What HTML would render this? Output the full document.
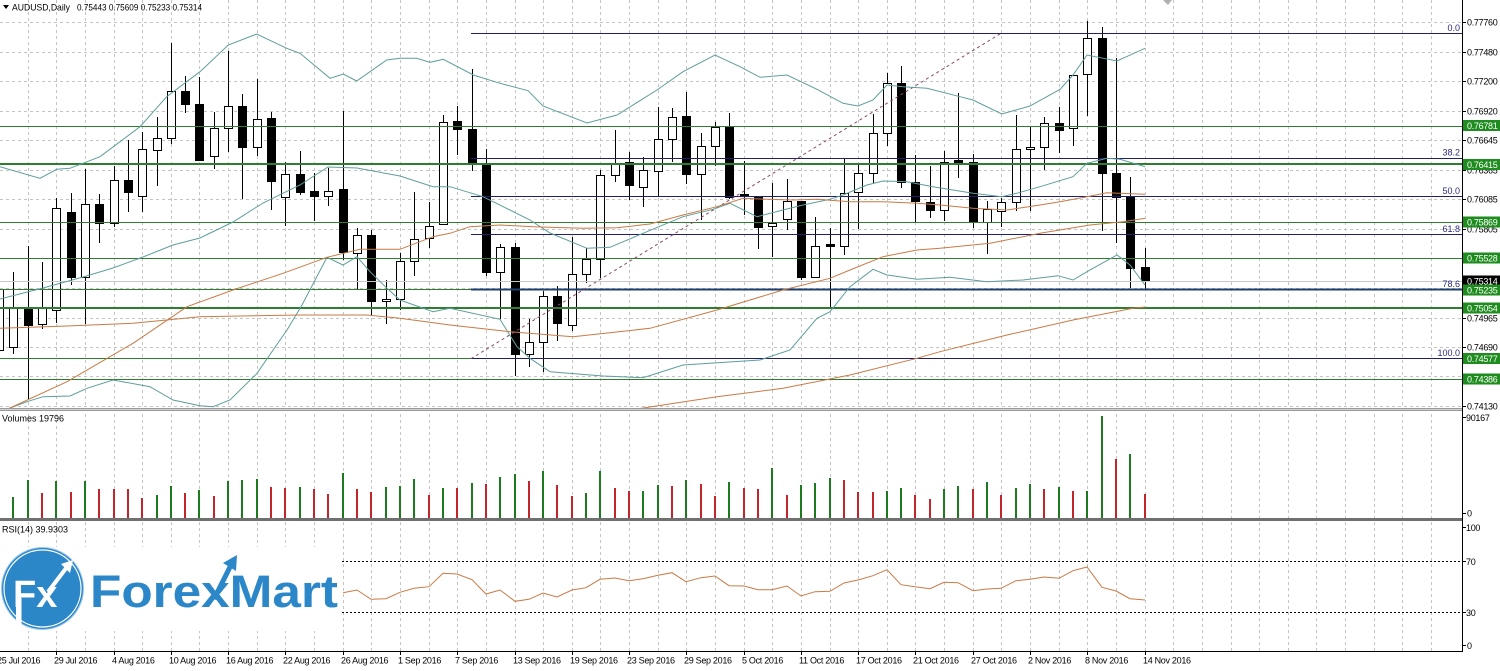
<!DOCTYPE html>
<html><head><meta charset="utf-8"><style>
html,body{margin:0;padding:0;background:#fff;}
svg{display:block;}
text{font-family:"Liberation Sans",sans-serif;}
</style></head><body>
<svg width="1500" height="671" viewBox="0 0 1500 671" xmlns="http://www.w3.org/2000/svg">
<rect width="1500" height="671" fill="#fff"/>
<defs><clipPath id="mp"><rect x="0" y="0" width="1462" height="408"/></clipPath></defs>
<!-- vertical grid -->
<path fill="none" stroke="#c4c4c4" stroke-width="1" stroke-dasharray="3 3" shape-rendering="crispEdges" d="M28.5 0V651M56.5 0V651M85.5 0V651M114.5 0V651M142.5 0V651M171.5 0V651M199.5 0V651M228.5 0V651M257.5 0V651M285.5 0V651M314.5 0V651M343.5 0V651M371.5 0V651M400.5 0V651M429.5 0V651M457.5 0V651M486.5 0V651M515.5 0V651M543.5 0V651M572.5 0V651M600.5 0V651M629.5 0V651M658.5 0V651M686.5 0V651M715.5 0V651M744.5 0V651M772.5 0V651M801.5 0V651M830.5 0V651M858.5 0V651M887.5 0V651M915.5 0V651M944.5 0V651M973.5 0V651M1001.5 0V651M1030.5 0V651M1059.5 0V651M1087.5 0V651M1116.5 0V651M1145.5 0V651M1173.5 0V651M1202.5 0V651M1231.5 0V651M1259.5 0V651M1288.5 0V651M1316.5 0V651M1345.5 0V651M1374.5 0V651M1402.5 0V651M1431.5 0V651"/>
<!-- horizontal grid -->
<path fill="none" stroke="#c4c4c4" stroke-width="1" stroke-dasharray="3 3" shape-rendering="crispEdges" d="M0 22.5H1462M0 52.5H1462M0 81.5H1462M0 111.5H1462M0 140.5H1462M0 170.5H1462M0 199.5H1462M0 229.5H1462M0 258.5H1462M0 288.5H1462M0 318.5H1462M0 347.5H1462M0 376.5H1462M0 406.5H1462"/>

<!-- header -->
<polygon points="3,5 9,5 6,9" fill="#000"/>
<text x="12" y="10.5" font-size="9" textLength="58" lengthAdjust="spacingAndGlyphs">AUDUSD,Daily</text>
<text x="77" y="10.5" font-size="9" textLength="125" lengthAdjust="spacingAndGlyphs">0.75443 0.75609 0.75233 0.75314</text>
<polygon points="1163,0 1172,0 1168,5" fill="#b0b0b0"/>

<g clip-path="url(#mp)">
<!-- candles wicks -->
<path fill="none" stroke="#000" stroke-width="1" shape-rendering="crispEdges" d="M-0.5 280V355M13.5 272V354M28.5 246V399M42.5 262V329M56.5 198V323M71.5 193V285M85.5 169V324M99.5 194V243M114.5 166V227M128.5 140V212M142.5 132V212M157.5 117V186M171.5 43V144M185.5 76V113M199.5 77V160M214.5 112V169M228.5 51V152M242.5 94V199M257.5 79V156M271.5 112V210M285.5 162V226M300.5 151V195M314.5 173V221M328.5 168V206M343.5 111V260M357.5 228V289M371.5 230V315M386.5 280V324M400.5 253V310M414.5 192V276M429.5 202V248M443.5 115V225M457.5 106V155M472.5 69V171M486.5 149V276M500.5 244V319M515.5 243V376M529.5 319V367M543.5 291V372M557.5 286V341M572.5 237V331M586.5 248V283M600.5 170V278M615.5 130V182M629.5 152V200M643.5 157V207M658.5 107V196M672.5 108V162M686.5 92V184M701.5 133V220M715.5 122V166M729.5 113V199M744.5 161V215M758.5 196V249M772.5 183V257M787.5 179V230M801.5 201V280M815.5 217V277M830.5 228V308M844.5 158V255M858.5 164V229M873.5 114V183M887.5 73V146M901.5 66V188M915.5 155V222M930.5 166V218M944.5 151V221M958.5 93V178M973.5 154V228M987.5 201V254M1001.5 198V227M1016.5 115V211M1030.5 127V211M1044.5 117V170M1059.5 107V153M1073.5 75V146M1087.5 21V116M1102.5 27V231M1116.5 58V243M1130.5 177V288M1145.5 248V289"/>
<!-- white bodies -->
<g fill="#fff" stroke="#000" stroke-width="1" shape-rendering="crispEdges">
<rect x="-4.5" y="289.5" width="8" height="61"/>
<rect x="9.5" y="308.5" width="8" height="39"/>
<rect x="38.5" y="308.5" width="8" height="16"/>
<rect x="52.5" y="208.5" width="8" height="102"/>
<rect x="81.5" y="204.5" width="8" height="73"/>
<rect x="110.5" y="180.5" width="8" height="43"/>
<rect x="138.5" y="149.5" width="8" height="47"/>
<rect x="153.5" y="138.5" width="8" height="12"/>
<rect x="167.5" y="91.5" width="8" height="47"/>
<rect x="210.5" y="128.5" width="8" height="28"/>
<rect x="224.5" y="106.5" width="8" height="22"/>
<rect x="253.5" y="119.5" width="8" height="28"/>
<rect x="281.5" y="174.5" width="8" height="23"/>
<rect x="324.5" y="191.5" width="8" height="5"/>
<rect x="353.5" y="235.5" width="8" height="18"/>
<rect x="382.5" y="299.5" width="8" height="2"/>
<rect x="396.5" y="261.5" width="8" height="38"/>
<rect x="410.5" y="239.5" width="8" height="22"/>
<rect x="425.5" y="226.5" width="8" height="12"/>
<rect x="439.5" y="122.5" width="8" height="102"/>
<rect x="496.5" y="247.5" width="8" height="25"/>
<rect x="525.5" y="342.5" width="8" height="12"/>
<rect x="539.5" y="296.5" width="8" height="46"/>
<rect x="568.5" y="274.5" width="8" height="51"/>
<rect x="582.5" y="259.5" width="8" height="15"/>
<rect x="596.5" y="175.5" width="8" height="84"/>
<rect x="611.5" y="163.5" width="8" height="12"/>
<rect x="639.5" y="170.5" width="8" height="17"/>
<rect x="654.5" y="139.5" width="8" height="32"/>
<rect x="668.5" y="117.5" width="8" height="22"/>
<rect x="697.5" y="146.5" width="8" height="28"/>
<rect x="711.5" y="127.5" width="8" height="19"/>
<rect x="768.5" y="223.5" width="8" height="3"/>
<rect x="783.5" y="201.5" width="8" height="18"/>
<rect x="811.5" y="246.5" width="8" height="31"/>
<rect x="840.5" y="193.5" width="8" height="53"/>
<rect x="854.5" y="173.5" width="8" height="19"/>
<rect x="869.5" y="133.5" width="8" height="40"/>
<rect x="883.5" y="83.5" width="8" height="50"/>
<rect x="940.5" y="162.5" width="8" height="48"/>
<rect x="983.5" y="209.5" width="8" height="13"/>
<rect x="997.5" y="202.5" width="8" height="9"/>
<rect x="1012.5" y="149.5" width="8" height="53"/>
<rect x="1026.5" y="147.5" width="8" height="2"/>
<rect x="1040.5" y="123.5" width="8" height="24"/>
<rect x="1069.5" y="75.5" width="8" height="53"/>
<rect x="1083.5" y="38.5" width="8" height="36"/>
</g>
<!-- black bodies -->
<g fill="#000" shape-rendering="crispEdges">
<rect x="24" y="308" width="9" height="18"/>
<rect x="67" y="212" width="9" height="66"/>
<rect x="95" y="204" width="9" height="20"/>
<rect x="124" y="180" width="9" height="13"/>
<rect x="181" y="91" width="9" height="14"/>
<rect x="195" y="104" width="9" height="57"/>
<rect x="238" y="106" width="9" height="42"/>
<rect x="267" y="118" width="9" height="64"/>
<rect x="296" y="174" width="9" height="19"/>
<rect x="310" y="191" width="9" height="6"/>
<rect x="339" y="189" width="9" height="64"/>
<rect x="367" y="235" width="9" height="67"/>
<rect x="453" y="121" width="9" height="9"/>
<rect x="468" y="129" width="9" height="35"/>
<rect x="482" y="163" width="9" height="110"/>
<rect x="511" y="247" width="9" height="108"/>
<rect x="553" y="296" width="9" height="28"/>
<rect x="625" y="162" width="9" height="24"/>
<rect x="682" y="116" width="9" height="59"/>
<rect x="725" y="127" width="9" height="71"/>
<rect x="740" y="194" width="9" height="3"/>
<rect x="754" y="196" width="9" height="32"/>
<rect x="797" y="201" width="9" height="77"/>
<rect x="826" y="244" width="9" height="3"/>
<rect x="897" y="83" width="9" height="100"/>
<rect x="911" y="182" width="9" height="20"/>
<rect x="926" y="202" width="9" height="9"/>
<rect x="954" y="160" width="9" height="3"/>
<rect x="969" y="162" width="9" height="61"/>
<rect x="1055" y="123" width="9" height="8"/>
<rect x="1098" y="38" width="9" height="136"/>
<rect x="1112" y="173" width="9" height="25"/>
<rect x="1126" y="197" width="9" height="72"/>
<rect x="1141" y="267" width="9" height="15"/>
</g>

<!-- bid line -->
<path d="M0 281.5H1462" stroke="#c8c8c8" stroke-width="1" shape-rendering="crispEdges"/>
<!-- green horizontal lines -->
<g stroke="#2f7d2f" fill="none" shape-rendering="crispEdges">
<path stroke-width="1" d="M0 126.5H1462M0 222.5H1462M0 258.5H1462M0 289.5H1462M0 358.5H1462M0 379.5H1462"/>
<path stroke-width="2" d="M0 164H1462M0 308H1462"/>
</g>
<!-- fib lines -->
<g stroke="#20206e" fill="none" stroke-width="1" shape-rendering="crispEdges">
<path d="M471 33.5H1462M471 158.5H1462M471 196.5H1462M471 234.5H1462M471 358.5H1462"/>
<path stroke="#1c3f6e" stroke-width="2" d="M471 289.5H1462"/>
</g>
<path d="M471 358.7L1001 33.3" stroke="#8b4a6b" stroke-width="1" stroke-dasharray="3 3" fill="none"/>

<!-- Bollinger bands -->
<g fill="none" stroke="#5e9e9b" stroke-width="1">
<polyline points="0,166.7 40,178.3 56.7,169.3 70,168.3 100,156.7 140,126.7 166.7,96.7 200,71.7 228.3,45 256.7,34 286.7,48.3 300,53.3 330,78.3 343.3,74 356.7,81 386.7,60 400,58.3 416.7,58.3 430,62.3 443.3,59.3 473.3,75 500,83.3 528,90.7 543,106 587,123 617,115 657,90 683,71.7 715,55 740,66.7 760,77.3 787,75 817,89.3 843,103.3 858,106 873,100 887,85 903,86.7 927,88.3 960,96.7 973,100 1001.7,114 1030,106 1060,89.3 1073,75 1087,55 1117,61 1145,48.3"/>
<polyline points="0,299 43,288 83,277 113,268 143,257 173,245 200,238 233,222 263,203 300,185 328,167 357,168 400,176 433,186.7 450,186.7 483,196.7 530,220 550,233 587,248.3 610,247.3 643,233.3 683,216.7 713,209.3 730,203.3 757,216.7 783,210 803,205 830,199.3 843,195 867,185 883,181 907,181.7 933,186.7 973,193.3 1001.7,196.7 1016.7,193.3 1040,186.7 1073,176.7 1087,163.3 1107,158.3 1120,159.3 1145,166.7"/>
<polyline points="0,412 10,408 27,401.7 43,396.7 70,396 87,388.3 113,380 150,386.7 173,400 200,405.7 213,406.7 230,400 257,373.3 287,330 302,305 327,257.3 343,265 357,256.7 370,271.7 387,288.3 400,300 433,311.7 450,308.3 500,319.3 517,346.7 530,358.3 550,371.7 603,376 643,377.7 683,365 760,360 790,350 817,318.3 830,311.7 850,286.7 873,269.3 887,275 917,279.3 950,277.3 986.7,281.7 1023,280 1058,275.7 1073,280 1087,271.7 1117,255 1130,265 1145,285"/>
</g>
<!-- moving averages -->
<g fill="none" stroke="#c97a45" stroke-width="1">
<polyline points="0,413 10,408 67,381.7 133,343.3 187,306.7 233,290 283,273.3 327,257.3 360,249.3 400,249.3 433,236.7 450,233.3 470,226.7 500,225 533,226.7 583,228.3 617,227.7 650,224 683,215 717,206.7 743,198.3 767,199.3 793,200 817,199.3 850,201.7 883,201.7 917,203.3 940,205 973,208.3 1007,210 1040,205 1060,201.7 1087,196.7 1107,192.7 1145,194.3"/>
<polyline points="0,328.3 67,326 133,323.3 200,316.7 300,315 367,315 400,318.3 450,325 510,331.7 573,336.7 650,328.3 717,310 783,290 830,278.3 850,270 883,256.7 917,250 940,248.3 990,243.3 1040,233.3 1090,225 1123,221.7 1145,218.3"/>
<polyline points="640,408.5 717,396.7 783,388.3 850,375 917,358.3 940,351.7 1007,335 1073,320 1133,308.3 1145,307"/>
</g>
</g>

<!-- fib labels -->
<g font-size="9" fill="#2a2a80" text-anchor="end">
<text x="1460" y="31">0.0</text>
<text x="1460" y="155.5">38.2</text>
<text x="1460" y="194">50.0</text>
<text x="1460" y="232">61.8</text>
<text x="1460" y="287">78.6</text>
<text x="1460" y="356">100.0</text>
</g>

<!-- panel separators -->
<rect x="0" y="408" width="1462" height="3" fill="#9a9a9a"/>
<path d="M0 409.5H1462" stroke="#d0d0d0" stroke-width="1"/>
<rect x="0" y="518" width="1462" height="3" fill="#707070"/>

<!-- volumes -->
<g shape-rendering="crispEdges">
<g fill="#1e7a1e">
<rect x="12" y="497" width="2" height="21"/><rect x="27" y="480" width="2" height="38"/><rect x="55" y="481" width="2" height="37"/><rect x="84" y="481" width="2" height="37"/><rect x="156" y="495" width="2" height="23"/><rect x="170" y="486" width="2" height="32"/><rect x="198" y="490" width="2" height="28"/><rect x="227" y="481" width="2" height="37"/><rect x="241" y="480" width="2" height="38"/><rect x="256" y="479" width="2" height="39"/><rect x="299" y="487" width="2" height="31"/><rect x="342" y="473" width="2" height="45"/><rect x="385" y="487" width="2" height="31"/><rect x="399" y="486" width="2" height="32"/><rect x="413" y="479" width="2" height="39"/><rect x="442" y="488" width="2" height="30"/><rect x="471" y="483" width="2" height="35"/><rect x="499" y="477" width="2" height="41"/><rect x="514" y="474" width="2" height="44"/><rect x="542" y="471" width="2" height="47"/><rect x="585" y="493" width="2" height="25"/><rect x="599" y="471" width="2" height="47"/><rect x="642" y="491" width="2" height="27"/><rect x="657" y="485" width="2" height="33"/><rect x="685" y="480" width="2" height="38"/><rect x="728" y="482" width="2" height="36"/><rect x="771" y="468" width="2" height="50"/><rect x="800" y="485" width="2" height="33"/><rect x="814" y="483" width="2" height="35"/><rect x="829" y="478" width="2" height="40"/><rect x="886" y="491" width="2" height="27"/><rect x="900" y="488" width="2" height="30"/><rect x="943" y="489" width="2" height="29"/><rect x="957" y="486" width="2" height="32"/><rect x="986" y="482" width="2" height="36"/><rect x="1015" y="488" width="2" height="30"/><rect x="1029" y="484" width="2" height="34"/><rect x="1058" y="487" width="2" height="31"/><rect x="1086" y="491" width="2" height="27"/><rect x="1101" y="416" width="2" height="102"/><rect x="1129" y="454" width="2" height="64"/>
</g>
<g fill="#c0262c">
<rect x="41" y="493" width="2" height="25"/><rect x="70" y="492" width="2" height="26"/><rect x="98" y="489" width="2" height="29"/><rect x="113" y="489" width="2" height="29"/><rect x="127" y="489" width="2" height="29"/><rect x="141" y="498" width="2" height="20"/><rect x="184" y="493" width="2" height="25"/><rect x="213" y="496" width="2" height="22"/><rect x="270" y="487" width="2" height="31"/><rect x="284" y="488" width="2" height="30"/><rect x="313" y="489" width="2" height="29"/><rect x="327" y="494" width="2" height="24"/><rect x="356" y="489" width="2" height="29"/><rect x="370" y="492" width="2" height="26"/><rect x="428" y="495" width="2" height="23"/><rect x="456" y="488" width="2" height="30"/><rect x="485" y="484" width="2" height="34"/><rect x="528" y="481" width="2" height="37"/><rect x="556" y="485" width="2" height="33"/><rect x="571" y="496" width="2" height="22"/><rect x="614" y="488" width="2" height="30"/><rect x="628" y="491" width="2" height="27"/><rect x="671" y="486" width="2" height="32"/><rect x="700" y="484" width="2" height="34"/><rect x="714" y="496" width="2" height="22"/><rect x="743" y="488" width="2" height="30"/><rect x="757" y="489" width="2" height="29"/><rect x="786" y="495" width="2" height="23"/><rect x="843" y="480" width="2" height="38"/><rect x="857" y="492" width="2" height="26"/><rect x="872" y="492" width="2" height="26"/><rect x="914" y="495" width="2" height="23"/><rect x="929" y="499" width="2" height="19"/><rect x="972" y="489" width="2" height="29"/><rect x="1000" y="495" width="2" height="23"/><rect x="1043" y="489" width="2" height="29"/><rect x="1072" y="491" width="2" height="27"/><rect x="1115" y="459" width="2" height="59"/><rect x="1144" y="494" width="2" height="24"/>
</g>
</g>
<text x="2" y="421.5" font-size="9" fill="#000">Volumes 19796</text>

<!-- RSI -->
<text x="2" y="532.5" font-size="9" fill="#000">RSI(14) 39.9303</text>
<path d="M342 561.5H1462M342 612.5H1462" stroke="#000" stroke-width="1" stroke-dasharray="2 2" fill="none" shape-rendering="crispEdges"/>
<polyline fill="none" stroke="#c97a45" stroke-width="1" points="343,592.7 357,590 371,599.3 386,598.7 400,592.3 414,588.3 429,586.7 443,573.3 457,574 472,579.7 486,594 500,590 515,601.3 529,599.3 543,593 557,597 572,590 586,587.7 600,579.3 615,578 629,580.7 643,578.7 658,575.3 672,572.7 686,581.7 701,577.7 715,576 729,585.7 744,586 758,589.7 772,589.7 787,586 801,596 815,591.7 830,591.3 844,583 858,580 873,575.7 887,569.7 901,584.7 915,586.7 930,588.7 944,582.3 958,582.7 973,590.7 987,589 1001,588.3 1016,580.7 1030,579.3 1044,577 1059,578.3 1073,570.7 1087,567 1102,587.3 1116,591 1130,598.7 1145,600"/>

<!-- logo -->
<rect x="0" y="547" width="340" height="84" fill="#fff"/>
<circle cx="42.5" cy="588.5" r="41" fill="#2b87c8" stroke="#9cc8ea" stroke-width="1"/>
<circle cx="42.5" cy="588.5" r="38.5" fill="none" stroke="#ffffff" stroke-width="1.2"/>
<text x="13" y="607" font-size="38" font-weight="bold" fill="#fff">Fx</text>
<rect x="16" y="598" width="5.5" height="31" fill="#fff"/>
<path d="M48 592L67 567" stroke="#fff" stroke-width="4" fill="none"/>
<polygon points="73,560 61,564 70,573" fill="#fff"/>
<text x="90" y="607" font-size="45" font-weight="bold" fill="#2b87c8" textLength="248" lengthAdjust="spacingAndGlyphs">ForexMart</text>
<path d="M214 599L231 565" stroke="#2b87c8" stroke-width="5" fill="none"/>
<polygon points="237,555 223,563 236,571" fill="#2b87c8"/>

<!-- axes frame -->
<path d="M1462.5 0V652M0 651.5H1463" stroke="#000" stroke-width="1" fill="none" shape-rendering="crispEdges"/>
<path stroke="#000" stroke-width="1" shape-rendering="crispEdges" d="M1462 22.5H1466M1462 52.5H1466M1462 81.5H1466M1462 111.5H1466M1462 140.5H1466M1462 170.5H1466M1462 199.5H1466M1462 229.5H1466M1462 318.5H1466M1462 347.5H1466M1462 406.5H1466M1462 417.5H1466M1462 513.5H1466M1462 527.5H1466M1462 561.5H1466M1462 612.5H1466M1462 645.5H1466"/>
<!-- date ticks -->
<path stroke="#000" stroke-width="1" shape-rendering="crispEdges" d="M56.5 651V655M114.5 651V655M171.5 651V655M228.5 651V655M285.5 651V655M343.5 651V655M400.5 651V655M457.5 651V655M515.5 651V655M572.5 651V655M629.5 651V655M686.5 651V655M744.5 651V655M801.5 651V655M858.5 651V655M915.5 651V655M973.5 651V655M1030.5 651V655M1087.5 651V655M1145.5 651V655"/>

<!-- right axis labels -->
<g font-size="9" fill="#000" letter-spacing="-0.3">
<text x="1467" y="25.5">0.77760</text>
<text x="1467" y="55.5">0.77480</text>
<text x="1467" y="84.5">0.77200</text>
<text x="1467" y="114.5">0.76920</text>
<text x="1467" y="143.5">0.76645</text>
<text x="1467" y="173.5">0.76365</text>
<text x="1467" y="202.5">0.76085</text>
<text x="1467" y="232.5">0.75805</text>
<text x="1467" y="321.5">0.74965</text>
<text x="1467" y="350.5">0.74690</text>
<text x="1467" y="409.5">0.74130</text>
<text x="1466" y="421">90167</text>
<text x="1467" y="516.5">0</text>
<text x="1466" y="531">100</text>
<text x="1466" y="565">70</text>
<text x="1466" y="616">30</text>
<text x="1467" y="649">0</text>
</g>
<!-- price label boxes -->
<rect x="1463" y="275.5" width="37" height="11" fill="#000"/>
<text x="1467" y="284.5" font-size="9" fill="#fff" letter-spacing="-0.3">0.75314</text>
<g fill="#1e8c1e">
<rect x="1463" y="120" width="37" height="11"/>
<rect x="1463" y="159" width="37" height="11"/>
<rect x="1463" y="216.5" width="37" height="11"/>
<rect x="1463" y="252.5" width="37" height="11"/>
<rect x="1463" y="284.5" width="37" height="11"/>
<rect x="1463" y="302.5" width="37" height="11"/>
<rect x="1463" y="353" width="37" height="11"/>
<rect x="1463" y="373.5" width="37" height="11"/>
</g>
<g font-size="9" fill="#fff" letter-spacing="-0.3">
<text x="1467" y="129">0.76781</text>
<text x="1467" y="168">0.76415</text>
<text x="1467" y="225.5">0.75869</text>
<text x="1467" y="261.5">0.75528</text>
<text x="1467" y="293.5">0.75235</text>
<text x="1467" y="311.5">0.75054</text>
<text x="1467" y="362">0.74577</text>
<text x="1467" y="382.5">0.74386</text>
</g>

<!-- date labels -->
<g font-size="9" fill="#000" letter-spacing="-0.3">
<text x="-3" y="663.5">25 Jul 2016</text>
<text x="54" y="663.5">29 Jul 2016</text>
<text x="112" y="663.5">4 Aug 2016</text>
<text x="169" y="663.5">10 Aug 2016</text>
<text x="226" y="663.5">16 Aug 2016</text>
<text x="283" y="663.5">22 Aug 2016</text>
<text x="341" y="663.5">26 Aug 2016</text>
<text x="398" y="663.5">1 Sep 2016</text>
<text x="455" y="663.5">7 Sep 2016</text>
<text x="513" y="663.5">13 Sep 2016</text>
<text x="570" y="663.5">19 Sep 2016</text>
<text x="627" y="663.5">23 Sep 2016</text>
<text x="684" y="663.5">29 Sep 2016</text>
<text x="742" y="663.5">5 Oct 2016</text>
<text x="799" y="663.5">11 Oct 2016</text>
<text x="856" y="663.5">17 Oct 2016</text>
<text x="913" y="663.5">21 Oct 2016</text>
<text x="971" y="663.5">27 Oct 2016</text>
<text x="1028" y="663.5">2 Nov 2016</text>
<text x="1085" y="663.5">8 Nov 2016</text>
<text x="1143" y="663.5">14 Nov 2016</text>
</g>
</svg>
</body></html>
